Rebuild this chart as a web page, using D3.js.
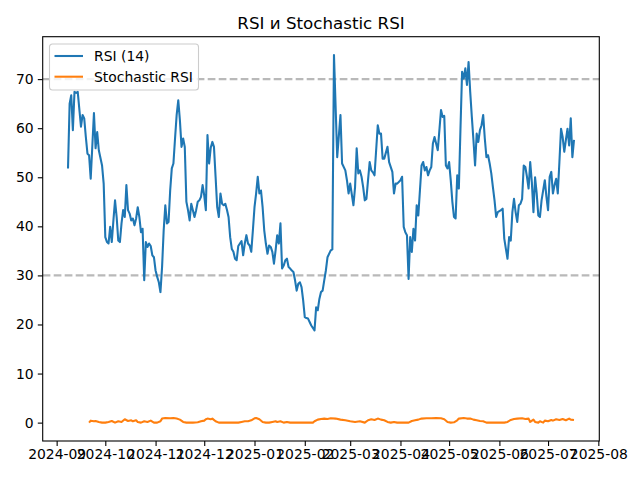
<!DOCTYPE html>
<html>
<head>
<meta charset="utf-8">
<script src="https://cdn.jsdelivr.net/npm/d3@7"></script>
<style>
  body { margin: 0; background: #fff; }
  text { font-family: "DejaVu Sans", sans-serif; }
</style>
</head>
<body>
<script>
// daily series, day index counted from the first RSI value
const startDate = new Date(2024, 8, 8);

const rsiDays = [0,1,2,3,4,5,6,8,9,10,11,12,13,14,16,17,18,19,21,22,23,24,25,26,27,28,29,30,31,32,33,34,35,36,37,38,39,40,41,42,43,44,45,46,47,48,49,50,51,52,53,54,55,56,57,58,59,60,61,62,63,64,65,66,67,68,69,70,71,72,73,74,75,76,77,78,79,80,81,82,83,84,85,86,87,88,89,90,91,92,93,94,95,96,97,98,99,100,101,102,103,104,105,107,108,109,110,111,112,113,114,115,116,117,118,119,120,121,122,123,124,125,126,127,128,129,130,131,132,133,134,135,136,137,138,139,140,141,142,143,144,145,146,147,148,149,150,151,152,153,154,155,156,157,158,159,160,162,163,164,166,168,169,171,172,173,174,176,177,178,179,180,181,182,183,184,185,186,187,188,189,190,191,192,193,194,195,197,198,200,201,202,203,205,206,207,208,209,210,211,212,213,214,215,216,218,219,220,221,222,223,224,225,226,228,229,230,231,232,233,234,235,236,237,238,239,240,241,242,243,244,245,246,247,248,249,250,251,252,253,254,255,256,257,258,259,260,261,262,263,264,265,267,268,269,270,271,272,273,274,275,276,277,278,279,280,281,282,283,284,285,286,287,288,289,290,291,292,294,295,296,297,298,299,300,301,302,303,304,305,306,307,308,309,310,311,312];
const rsiValues = [51.8,65.0,66.7,59.6,67.4,67.2,67.4,60.3,62.7,62.0,58.2,54.8,54.5,49.7,63.1,55.9,59.2,55.5,52.4,48.7,37.8,36.8,36.5,39.9,36.8,41.2,45.3,41.9,37.1,36.8,40.6,43.3,41.9,48.4,43.3,42.6,41.2,41.6,40.2,41.6,43.9,41.9,38.8,39.5,29.0,36.8,35.8,36.5,36.0,34.1,33.7,31.0,29.7,28.6,26.6,31.7,39.2,44.3,40.6,40.9,47.3,51.8,52.8,57.9,62.7,65.7,61.6,56.2,57.9,56.2,45.0,43.3,41.2,44.6,43.3,41.9,43.3,45.0,45.3,46.0,48.4,46.3,43.3,58.6,52.8,56.0,57.2,56.2,50.1,43.9,41.9,46.7,44.6,44.3,44.6,43.4,41.9,37.8,35.4,34.8,33.4,33.1,36.0,37.0,34.1,36.5,38.2,36.5,36.1,34.8,39.2,43.9,46.7,50.1,46.7,47.3,43.9,39.2,36.5,34.4,36.1,35.8,34.8,32.4,35.1,38.2,36.5,40.6,31.4,32.0,33.1,33.4,31.7,31.4,31.0,30.7,29.0,26.9,28.3,28.6,27.6,24.9,21.5,21.3,21.2,20.5,19.8,19.3,18.8,23.5,22.9,25.2,26.6,26.9,29.0,31.0,33.7,35.1,35.3,74.9,54.1,62.7,52.8,51.4,49.4,46.7,48.7,44.3,48.0,55.9,50.8,51.4,50.1,48.0,45.3,45.6,49.4,53.1,51.4,51.0,50.4,55.5,60.6,58.9,58.9,53.8,53.8,56.2,53.1,51.1,46.7,48.7,48.7,49.4,50.1,39.9,38.8,38.2,29.3,37.8,34.8,39.5,37.1,44.3,42.2,52.4,53.1,51.4,52.1,50.4,51.4,52.1,56.9,58.2,55.5,59.6,63.7,62.3,62.5,52.4,51.8,53.1,49.4,45.0,41.9,41.6,50.4,47.7,59.9,71.5,70.1,72.2,68.8,73.5,67.4,62.3,57.6,52.4,58.9,57.2,59.6,60.6,62.7,57.9,54.1,54.5,52.8,50.8,48.0,45.3,41.9,42.9,43.3,43.6,37.5,35.4,33.4,37.8,37.1,42.9,45.6,42.9,40.9,44.3,44.6,45.6,52.4,52.1,50.1,47.7,53.1,49.0,42.9,50.0,46.7,42.2,41.9,45.3,49.4,46.0,43.3,50.1,51.1,46.7,48.4,49.7,46.7,53.1,59.9,58.2,55.2,57.6,59.9,56.5,62.0,54.1,57.6];

const stochDays = [13,14,16,17,19,21,23,25,27,29,31,33,35,37,39,40,42,43,45,47,49,51,53,55,57,58,60,63,65,67,69,71,73,75,77,80,82,84,85,86,88,89,91,93,95,97,99,101,103,105,107,109,111,113,115,116,118,120,122,124,126,128,129,131,133,135,137,139,141,143,145,148,151,152,154,156,158,160,162,165,168,171,174,177,180,183,185,187,189,191,193,195,197,199,201,203,205,207,210,212,214,216,218,221,224,227,230,232,234,236,238,240,241,244,246,248,250,252,254,256,258,260,263,266,269,271,273,275,277,280,282,284,285,287,288,290,291,293,294,296,298,299,301,303,305,307,309,310,312];
const stochValues = [0.0,0.4,0.27,0.34,0.14,0,0,0.14,0.34,0,0.27,0.14,0.68,0.34,0.48,0.27,0.48,0.14,0,0.27,0.14,0.41,0,0,0.27,0.82,0.95,0.88,0.95,0.82,0.61,0.14,0,0,0,0.07,0.27,0.41,0.68,0.82,0.68,0.82,0.27,0,0,0,0,0,0,0,0.14,0.27,0.27,0.48,0.88,0.95,0.68,0.14,0,0,0.14,0.27,0.14,0.27,0,0.14,0,0,0,0,0,0,0,0.27,0.61,0.75,0.82,0.75,0.88,0.82,0.61,0.48,0.27,0.14,0.27,0,0.48,0.68,0.54,0.82,0.61,0.48,0.14,0,0.14,0,0,0,0,0.34,0.48,0.61,0.82,0.88,0.88,0.95,0.88,0.68,0.14,0,0.07,0.48,0.82,0.95,0.82,0.82,0.61,0.48,0.34,0.27,0,0,0,0,0,0.14,0.54,0.75,0.82,0.88,0.75,0.82,0.14,0.61,0.14,0,0.27,0,0.41,0.27,0.54,0.41,0.68,0.54,0.75,0.48,0.82,0.61,0.54];

const levelLines = [70, 30];
const seriesNames = ["RSI (14)", "Stochastic RSI"];
const titleText = "RSI и Stochastic RSI";

const width = 640, height = 480;
const margin = { top: 36.7, right: 40.7, bottom: 39, left: 42.7 };
const colors = ["#1f77b4", "#ff7f0e"];
const lw = 2.08; // 1.5pt at 100 dpi

const rsi = rsiDays.map((d, i) => ({ date: d3.timeDay.offset(startDate, d), value: rsiValues[i] }));
const stoch = stochDays.map((d, i) => ({ date: d3.timeDay.offset(startDate, d), value: stochValues[i] }));

const svg = d3.select("body")
    .append("svg")
    .attr("width", width)
    .attr("height", height);

// matplotlib style 5% padding around the data
const xExt = d3.extent(rsi.concat(stoch), d => d.date);
const xPad = (xExt[1] - xExt[0]) * 0.05;
const xScale = d3.scaleTime()
    .domain([new Date(+xExt[0] - xPad), new Date(+xExt[1] + xPad)])
    .range([margin.left, width - margin.right]);

const yExt = d3.extent(rsiValues.concat(stochValues));
const yPad = (yExt[1] - yExt[0]) * 0.05;
const yScale = d3.scaleLinear()
    .domain([yExt[0] - yPad, yExt[1] + yPad])
    .range([height - margin.bottom, margin.top]);

const line = d3.line()
    .x(d => xScale(d.date))
    .y(d => yScale(d.value));

// level lines
svg.selectAll(".level")
    .data(levelLines).enter().append("line")
    .attr("class", "level")
    .attr("x1", margin.left)
    .attr("x2", width - margin.right)
    .attr("y1", d => yScale(d))
    .attr("y2", d => yScale(d))
    .attr("stroke", "#808080")
    .attr("stroke-opacity", 0.55)
    .attr("stroke-width", lw)
    .attr("stroke-dasharray", "7.7,3.3");

svg.append("path")
    .datum(rsi)
    .attr("fill", "none")
    .attr("stroke", colors[0])
    .attr("stroke-width", lw)
    .attr("stroke-linejoin", "round")
    .attr("d", line);

svg.append("path")
    .datum(stoch)
    .attr("fill", "none")
    .attr("stroke", colors[1])
    .attr("stroke-width", lw)
    .attr("stroke-linejoin", "round")
    .attr("d", line);

//Axis
const xAxis = d3.axisBottom(xScale)
    .ticks(d3.timeMonth.every(1))
    .tickFormat(d3.timeFormat("%Y-%m"))
    .tickSizeOuter(0)
    .tickSize(4.9)
    .tickPadding(3.6);
const yAxis = d3.axisLeft(yScale)
    .ticks(10)
    .tickFormat(d3.format("d"))
    .tickSizeOuter(0)
    .tickSize(4.9)
    .tickPadding(4.2);

const xAxisGroup = svg.append("g")
    .attr("class", "x axis")
    .attr("transform", `translate(0,${height - margin.bottom})`)
    .call(xAxis);
const yAxisGroup = svg.append("g")
    .attr("class", "y axis")
    .attr("transform", `translate(${margin.left},0)`)
    .call(yAxis);

svg.selectAll(".axis .domain").remove();
svg.selectAll(".axis line").attr("stroke", "#000").attr("stroke-width", 1.1);
svg.selectAll(".axis text")
    .attr("font-family", "DejaVu Sans")
    .attr("font-size", 13.9)
    .attr("fill", "#000");
xAxisGroup.selectAll("text").attr("dy", "0.71em");

// frame
svg.append("rect")
    .attr("x", margin.left)
    .attr("y", margin.top)
    .attr("width", width - margin.left - margin.right)
    .attr("height", height - margin.top - margin.bottom)
    .attr("fill", "none")
    .attr("stroke", "#000")
    .attr("stroke-width", 1.1);

svg.append("text")
    .attr("x", (margin.left + width - margin.right) / 2)
    .attr("y", 28.5)
    .attr("text-anchor", "middle")
    .attr("font-size", 16.7)
    .attr("fill", "#000")
    .text(titleText);

// legend
const legend = svg.append("g").attr("transform", "translate(49.5,44)");
legend.append("rect")
    .attr("width", 149)
    .attr("height", 46)
    .attr("rx", 3)
    .attr("fill", "#fff")
    .attr("fill-opacity", 0.8)
    .attr("stroke", "#cccccc")
    .attr("stroke-width", 1.1);

const legendItem = legend.selectAll(".legendItem")
    .data(seriesNames).enter().append("g")
    .attr("class", "legendItem")
    .attr("transform", (d, i) => `translate(0,${12 + i * 20.7})`);
legendItem.append("line")
    .attr("x1", 5)
    .attr("x2", 33.5)
    .attr("stroke", (d, i) => colors[i])
    .attr("stroke-width", lw);
legendItem.append("text")
    .attr("x", 44.5)
    .attr("dy", "0.35em")
    .attr("font-size", 13.9)
    .attr("fill", "#000")
    .text(d => d);
</script>
</body>
</html>
